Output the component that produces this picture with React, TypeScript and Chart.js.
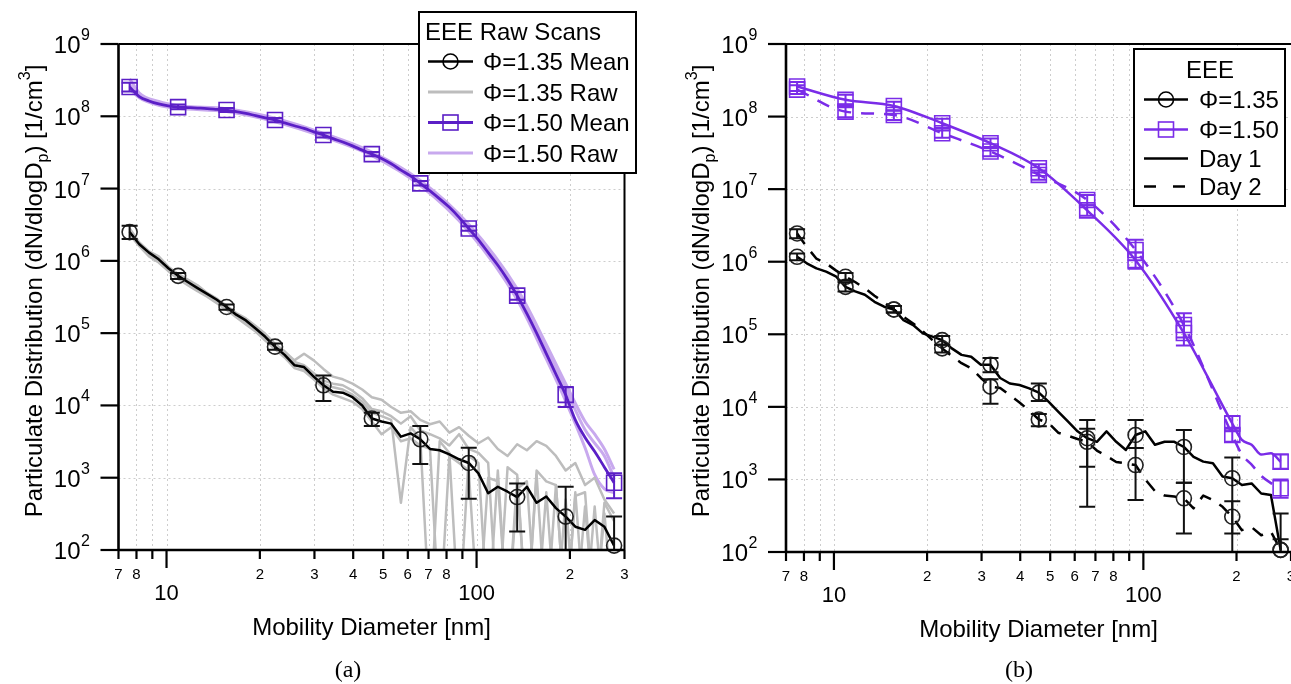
import React, { useEffect, useRef } from 'react';
import { Chart, registerables } from 'chart.js';
Chart.register(...registerables);

// ---------- shared axes / ticks ----------
const X_MIN = 7;
const X_MAX = 300;
const Y_MIN = 1e2;
const Y_MAX = 1e9;
const X_MINOR = [7, 8, 9, 20, 30, 40, 50, 60, 70, 80, 90, 200, 300];
const X_MINOR_LABELS = ['7', '8', '', '2', '3', '4', '5', '6', '7', '8', '', '2', '3'];
const X_MAJOR = [10, 100];
const X_MAJOR_LABELS = ['10', '100'];
const Y_DECADES = [1e2, 1e3, 1e4, 1e5, 1e6, 1e7, 1e8, 1e9];
const Y_EXPONENTS = ['2', '3', '4', '5', '6', '7', '8', '9'];
const X_TITLE = 'Mobility Diameter [nm]';

// mobility diameters of the instrument channels [nm]
const D = [7.603, 8.171, 8.782, 9.435, 10.14, 10.90, 11.71, 12.59, 13.52, 14.53,
  15.62, 16.78, 18.03, 19.38, 20.82, 22.38, 24.04, 25.84, 27.77, 29.84,
  32.06, 34.45, 37.02, 39.79, 42.76, 45.94, 49.37, 53.05, 57.02, 61.27,
  65.84, 70.75, 76.03, 81.71, 87.81, 94.35, 101.4, 109.0, 117.1, 125.9,
  135.2, 145.3, 156.2, 167.8, 180.3, 193.8, 208.2, 223.8, 240.4, 258.4,
  277.7];
const MARK_IDX = [0, 5, 10, 15, 20, 25, 30, 35, 40, 45, 50];
const MARK_D = [7.603, 10.90, 15.62, 22.38, 32.06, 45.94, 65.84, 94.35, 135.2, 193.8, 277.7];

// ---------- (a) EEE raw scans ----------
const A_MEAN_135 = [2.5e6, 1.7e6, 1.3e6, 1.05e6, 7.9e5, 6.2e5, 5.1e5, 4.2e5, 3.5e5, 2.9e5,
  2.3e5, 1.8e5, 1.5e5, 1.16e5, 8.9e4, 6.5e4, 5.0e4, 3.6e4, 3.4e4, 2.5e4,
  1.9e4, 1.55e4, 1.5e4, 1.3e4, 1.0e4, 6.6e3, 6.0e3, 5.6e3, 3.7e3, 4.1e3,
  3.4e3, 2.5e3, 2.4e3, 2.1e3, 1.8e3, 1.6e3, 1.15e3, 610, 750, 640,
  540, 750, 450, 550, 380, 290, 210, 190, 260, 210,
  115];
const A_MEAN_150 = [2.54e8, 1.87e8, 1.63e8, 1.48e8, 1.39e8, 1.34e8, 1.32e8, 1.30e8, 1.28e8, 1.25e8,
  1.22e8, 1.16e8, 1.10e8, 1.02e8, 9.5e7, 8.9e7, 8.1e7, 7.4e7, 6.8e7, 6.1e7,
  5.5e7, 4.9e7, 4.4e7, 3.9e7, 3.4e7, 3.0e7, 2.6e7, 2.2e7, 1.8e7, 1.5e7,
  1.18e7, 9.3e6, 7.2e6, 5.5e6, 4.0e6, 2.8e6, 1.95e6, 1.3e6, 8.7e5, 5.5e5,
  3.3e5, 1.86e5, 1.0e5, 5.2e4, 2.7e4, 1.4e4, 6.3e3, 3.6e3, 2.3e3, 1.4e3,
  850];
const A_RAW135_1 = [2.8e6, 1.8e6, 1.35e6, 1.15e6, 8.3e5, 6.6e5, 5.5e5, 4.6e5, 3.6e5, 3.0e5,
  2.4e5, 1.9e5, 1.6e5, 1.26e5, 9.8e4, 7.1e4, 5.6e4, 4.2e4, 5.2e4, 4.2e4,
  3.2e4, 2.5e4, 2.3e4, 2.0e4, 1.66e4, 1.3e4, 1.2e4, 9.5e3, 7.9e3, 8.3e3,
  6.3e3, 5.5e3, 6.0e3, 4.2e3, 5.0e3, 3.8e3, 3.0e3, 3.6e3, 2.5e3, 2.0e3,
  2.9e3, 2.4e3, 3.2e3, 2.75e3, 2.0e3, 1.26e3, 1.6e3, 790, 1.0e3, 500,
  320];
const A_RAW135_2 = [2.5e6, 1.74e6, 1.2e6, 1.0e6, 7.6e5, 6.0e5, 5.0e5, 4.0e5, 3.3e5, 2.75e5,
  2.2e5, 1.74e5, 1.38e5, 1.1e5, 8.5e4, 6.3e4, 5.0e4, 3.8e4, 3.2e4, 2.5e4,
  2.0e4, 1.78e4, 1.66e4, 1.41e4, 1.12e4, 7.9e3, 7.1e3, 6.3e3, 450, 5.0e3,
  3.5e3, 10, 3.2e3, 2.2e3, 10, 2.0e3, 1.6e3, 10, 1.26e3, 10,
  1.0e3, 10, 1.1e3, 10, 790, 10, 630, 10, 400, 10,
  10];
const A_RAW135_3 = [2.3e6, 1.6e6, 1.15e6, 9.5e5, 7.2e5, 5.6e5, 4.6e5, 3.8e5, 3.2e5, 2.6e5,
  2.1e5, 1.66e5, 1.32e5, 1.05e5, 7.9e4, 6.0e4, 4.6e4, 3.3e4, 3.0e4, 2.3e4,
  1.74e4, 1.41e4, 1.26e4, 1.12e4, 8.9e3, 6.0e3, 4.0e3, 5.0e3, 3.2e3, 3.5e3,
  2.8e3, 2.5e3, 10, 2.0e3, 1.6e3, 1.26e3, 10, 1.0e3, 890, 10,
  710, 890, 10, 630, 10, 500, 10, 400, 10, 320,
  10];
const A_RAW135_4 = [2.6e6, 1.66e6, 1.26e6, 1.07e6, 7.9e5, 6.3e5, 5.2e5, 4.4e5, 3.5e5, 2.95e5,
  2.3e5, 1.86e5, 1.5e5, 1.2e5, 9.1e4, 6.8e4, 5.2e4, 4.0e4, 3.6e4, 2.8e4,
  2.2e4, 2.0e4, 1.9e4, 1.6e4, 1.26e4, 8.9e3, 8.3e3, 7.1e3, 5.6e3, 7.1e3,
  4.5e3, 4.0e3, 3.5e3, 2.8e3, 4.0e3, 2.5e3, 2.2e3, 1.6e3, 10, 1.4e3,
  1.1e3, 10, 1.26e3, 890, 790, 10, 560, 630, 10, 450,
  250];
const A_RAW150_D = [7.603, 8.171, 9.435, 10.90, 15.62, 22.38, 32.06, 45.94, 65.84, 94.35, 135.2, 167.8, 193.8, 223.8, 240.4, 258.4, 277.7];
const A_RAW150_1 = [3.3e8, 2.1e8, 1.6e8, 1.4e8, 1.27e8, 9.4e7, 5.8e7, 3.2e7, 1.3e7, 3.2e6, 4.1e5, 7.0e4, 2.0e4, 6.0e3, 4.0e3, 2.5e3, 1.3e3];
const A_RAW150_2 = [2.4e8, 1.8e8, 1.42e8, 1.29e8, 1.16e8, 8.4e7, 5.2e7, 2.85e7, 1.1e7, 2.55e6, 2.9e5, 4.4e4, 1.15e4, 2.6e3, 1.1e3, 700, 620];
const A_RAW150_3 = [2.7e8, 1.95e8, 1.55e8, 1.38e8, 1.25e8, 9.2e7, 5.7e7, 3.1e7, 1.24e7, 3.0e6, 3.7e5, 6.0e4, 1.7e4, 4.6e3, 3.0e3, 2.0e3, 1.0e3];
const A_ERR135_HI = [3.05e6, 6.8e5, 2.5e5, 7.2e4, 2.6e4, 7.9e3, 5.2e3, 2.6e3, 830, 750, 290];
const A_ERR135_LO = [2.0e6, 5.6e5, 2.1e5, 5.9e4, 1.15e4, 5.2e3, 1.55e3, 510, 180, 10, 10];
const A_ERR150_HI = [2.9e8, 1.45e8, 1.3e8, 9.5e7, 5.9e7, 3.2e7, 1.27e7, 3.0e6, 3.7e5, 1.8e4, 1.15e3];
const A_ERR150_LO = [2.2e8, 1.25e8, 1.15e8, 8.3e7, 5.1e7, 2.8e7, 1.1e7, 2.6e6, 2.9e5, 9.5e3, 520];
const A_LEGEND_TITLE = 'EEE Raw Scans';
const A_LEGEND = ['Φ=1.35 Mean', 'Φ=1.35 Raw', 'Φ=1.50 Mean', 'Φ=1.50 Raw'];

// ---------- (b) EEE day 1 / day 2 ----------
const B_D1_135 = [1.17e6, 9.5e5, 8.1e5, 7.3e5, 6.3e5, 4.5e5, 3.9e5, 3.5e5, 2.8e5, 2.4e5,
  2.2e5, 1.57e5, 1.34e5, 1.03e5, 9.3e4, 8.3e4, 6.4e4, 5.2e4, 4.9e4, 3.8e4,
  3.8e4, 2.5e4, 2.1e4, 2.0e4, 1.8e4, 1.57e4, 1.18e4, 8.6e3, 6.3e3, 4.6e3,
  3.7e3, 3.3e3, 4.6e3, 3.3e3, 2.55e3, 4.1e3, 4.6e3, 3.0e3, 3.3e3, 3.3e3,
  2.8e3, 2.05e3, 1.76e3, 1.67e3, 1.1e3, 1.04e3, 840, 880, 640, 610,
  107];
const B_D2_135 = [2.45e6, 1.6e6, 1.1e6, 9.5e5, 7.6e5, 6.2e5, 5.25e5, 4.3e5, 3.4e5, 2.75e5,
  2.2e5, 1.74e5, 1.41e5, 1.1e5, 8.3e4, 6.4e4, 5.0e4, 4.0e4, 3.4e4, 2.5e4,
  1.9e4, 1.82e4, 1.45e4, 1.15e4, 8.9e3, 6.7e3, 6.0e3, 4.4e3, 4.0e3, 3.6e3,
  3.3e3, 2.5e3, 2.1e3, 1.74e3, 1.66e3, 1.58e3, 1.0e3, 690, 600, 580,
  550, 400, 600, 520, 420, 306, 200, 220, 170, 190,
  107];
const B_P_D = [7.603, 10.90, 15.62, 22.38, 32.06, 45.94, 65.84, 94.35, 135.2, 193.8, 208.2, 223.8, 240.4, 258.4, 277.7];
const B_P_MARK_IDX = [0, 1, 2, 3, 4, 5, 6, 7, 8, 9, 14];
const B_D1_150 = [2.6e8, 1.7e8, 1.4e8, 8.1e7, 4.3e7, 1.94e7, 5.1e6, 1.05e6, 1.04e5, 5.9e3, 3.5e3, 3.0e3, 2.2e3, 2.3e3, 1.75e3];
const B_D2_150 = [2.35e8, 1.17e8, 1.05e8, 5.9e7, 3.3e7, 1.57e7, 7.1e6, 1.45e6, 1.34e5, 4.1e3, 2.2e3, 1.6e3, 1.12e3, 890, 755];
const B_ERR_D1_135_HI = [1.3e6, 5.2e5, 2.45e5, 9.5e4, 4.7e4, 2.1e4, 6.6e3, 6.6e3, 4.8e3, 2.0e3, 340];
const B_ERR_D1_135_LO = [1.05e6, 3.9e5, 2.0e5, 7.2e4, 3.0e4, 1.2e4, 1.5e3, 2.7e3, 900, 10, 10];
const B_ERR_D2_135_HI = [2.8e6, 7.0e5, 2.45e5, 7.2e4, 2.4e4, 8.0e3, 5.0e3, 2.7e3, 900, 500, 150];
const B_ERR_D2_135_LO = [2.1e6, 5.5e5, 2.0e5, 5.6e4, 1.1e4, 5.4e3, 420, 520, 180, 180, 80];
const B_ERR_D1_150_HI = [3.0e8, 2.0e8, 1.6e8, 9.3e7, 5.0e7, 2.2e7, 6.0e6, 1.35e6, 1.5e5, 7.5e3, 2.2e3];
const B_ERR_D1_150_LO = [2.25e8, 1.45e8, 1.22e8, 7.0e7, 3.7e7, 1.7e7, 4.3e6, 8.0e5, 7.0e4, 4.6e3, 1.4e3];
const B_ERR_D2_150_HI = [2.7e8, 1.4e8, 1.2e8, 6.8e7, 3.8e7, 1.8e7, 8.3e6, 2.0e6, 1.95e5, 5.0e3, 1.0e3];
const B_ERR_D2_150_LO = [2.05e8, 9.8e7, 9.0e7, 5.1e7, 2.85e7, 1.35e7, 6.0e6, 1.05e6, 9.0e4, 3.3e3, 560];
const B_LEGEND_TITLE = 'EEE';
const B_LEGEND = ['Φ=1.35', 'Φ=1.50', 'Day 1', 'Day 2'];

// ---------- styling ----------
const SANS = '"Liberation Sans", Arial, Helvetica, sans-serif';
const SERIF = '"Liberation Serif", "Times New Roman", serif';
const BLACK = '#000000';
const GRAY = '#bdbdbd';
const PURPLE_A = '#5b1fc6';
const LILAC = '#c8a9ee';
const PURPLE_B = '#7a2ce8';
const DASH = [13, 10];

const pts = (xs: number[], ys: number[]) => xs.map((x, i) => ({ x, y: ys[i] }));
const pick = (arr: number[], idx: number[]) => idx.map((i) => arr[i]);

function lineDs(data: any[], color: string, width: number, dash: number[] = [], smooth = false) {
  return {
    data, borderColor: color, borderWidth: width, borderDash: dash, pointRadius: 0,
    fill: false, tension: 0, cubicInterpolationMode: smooth ? 'monotone' : 'default',
    borderJoinStyle: 'round', borderCapStyle: 'butt',
  };
}
function markerDs(data: any[], style: string, color: string, radius: number) {
  return {
    data, showLine: false, pointStyle: style, pointRadius: radius, pointBorderColor: color,
    pointBackgroundColor: 'rgba(0,0,0,0)', pointBorderWidth: 1.6, clip: false,
  };
}

function seg(ctx: CanvasRenderingContext2D, x1: number, y1: number, x2: number, y2: number) {
  ctx.beginPath(); ctx.moveTo(x1, y1); ctx.lineTo(x2, y2); ctx.stroke();
}

function drawGrid(chart: any) {
  const { ctx, chartArea: a, scales } = chart;
  ctx.save();
  ctx.strokeStyle = '#cdcdcd';
  ctx.lineWidth = 1;
  ctx.setLineDash([2, 3]);
  [...X_MINOR, ...X_MAJOR].forEach((v) => {
    if (v <= X_MIN || v >= X_MAX) return;
    const px = Math.round(scales.x.getPixelForValue(v)) + 0.5;
    seg(ctx, px, a.top, px, a.bottom);
  });
  Y_DECADES.forEach((v) => {
    if (v <= Y_MIN || v >= Y_MAX) return;
    const py = Math.round(scales.y.getPixelForValue(v)) + 0.5;
    seg(ctx, a.left, py, a.right, py);
  });
  ctx.restore();
}

function drawErrors(chart: any, xs: number[], hi: number[], lo: number[], color: string) {
  const { ctx, chartArea: a, scales } = chart;
  ctx.save();
  ctx.strokeStyle = color; ctx.lineWidth = 2; ctx.setLineDash([]);
  xs.forEach((xv, k) => {
    const px = scales.x.getPixelForValue(xv);
    const top = scales.y.getPixelForValue(hi[k]);
    let bot = scales.y.getPixelForValue(lo[k]);
    const cap = bot <= a.bottom;
    bot = Math.min(bot, a.bottom);
    ctx.beginPath();
    ctx.moveTo(px, top); ctx.lineTo(px, bot);
    ctx.moveTo(px - 8, top); ctx.lineTo(px + 8, top);
    if (cap) { ctx.moveTo(px - 8, bot); ctx.lineTo(px + 8, bot); }
    ctx.stroke();
  });
  ctx.restore();
}

function drawRich(ctx: CanvasRenderingContext2D, parts: { t: string; s: number; dy: number }[], cx: number, base: number) {
  let total = 0;
  parts.forEach((p) => { ctx.font = `${p.s}px ${SANS}`; total += ctx.measureText(p.t).width; });
  let x = cx - total / 2;
  ctx.textAlign = 'left';
  parts.forEach((p) => {
    ctx.font = `${p.s}px ${SANS}`;
    ctx.fillText(p.t, x, base + p.dy);
    x += ctx.measureText(p.t).width;
  });
}

function drawAxes(chart: any, rightBorder: boolean, titleX: number, caption: string, capX: number) {
  const { ctx, chartArea: a, scales } = chart;
  ctx.save();
  ctx.setLineDash([]);
  ctx.strokeStyle = BLACK;
  ctx.fillStyle = BLACK;
  ctx.lineWidth = 2;
  seg(ctx, a.left, a.top, a.right, a.top);
  if (rightBorder) seg(ctx, a.right, a.top, a.right, a.bottom);
  ctx.lineWidth = 2.6;
  seg(ctx, a.left, a.top, a.left, a.bottom);
  seg(ctx, a.left, a.bottom, a.right, a.bottom);
  // y ticks
  ctx.lineWidth = 2.2;
  Y_DECADES.forEach((v, k) => {
    const py = scales.y.getPixelForValue(v);
    seg(ctx, a.left - 18, py, a.left, py);
    ctx.font = `24px ${SANS}`; ctx.textAlign = 'right'; ctx.textBaseline = 'alphabetic';
    ctx.fillText('10', a.left - 38, py + 9);
    ctx.font = `16px ${SANS}`; ctx.textAlign = 'left';
    ctx.fillText(Y_EXPONENTS[k], a.left - 37.5, py - 4);
  });
  // x ticks
  X_MINOR.forEach((v, k) => {
    const px = scales.x.getPixelForValue(v);
    seg(ctx, px, a.bottom, px, a.bottom + 9);
    ctx.font = `15px ${SANS}`; ctx.textAlign = 'center';
    if (X_MINOR_LABELS[k]) ctx.fillText(X_MINOR_LABELS[k], px, a.bottom + 28.5);
  });
  X_MAJOR.forEach((v, k) => {
    const px = scales.x.getPixelForValue(v);
    seg(ctx, px, a.bottom, px, a.bottom + 18);
    ctx.font = `22px ${SANS}`; ctx.textAlign = 'center';
    ctx.fillText(X_MAJOR_LABELS[k], px, a.bottom + 50);
  });
  // x title
  ctx.font = `24px ${SANS}`; ctx.textAlign = 'center';
  ctx.fillText(X_TITLE, (a.left + a.right) / 2, a.bottom + 85);
  // y title (rotated)
  ctx.save();
  ctx.translate(titleX, 291);
  ctx.rotate(-Math.PI / 2);
  drawRich(ctx, [
    { t: 'Particulate Distribution (dN/dlogD', s: 24, dy: 0 },
    { t: 'p', s: 16, dy: 6 },
    { t: ') [1/cm', s: 24, dy: 0 },
    { t: '3', s: 16, dy: -12 },
    { t: ']', s: 24, dy: 0 },
  ], 0, 8.5);
  ctx.restore();
  // caption
  ctx.font = `24px ${SERIF}`; ctx.textAlign = 'center';
  ctx.fillText(caption, capX, 677);
  ctx.restore();
}

function legendSample(ctx: CanvasRenderingContext2D, x1: number, x2: number, y: number, color: string, width: number, dash: number[], marker: string | null) {
  ctx.save();
  ctx.strokeStyle = color; ctx.lineWidth = width; ctx.setLineDash(dash);
  seg(ctx, x1, y, x2, y);
  ctx.setLineDash([]);
  ctx.lineWidth = 1.6;
  const cx = (x1 + x2) / 2;
  if (marker === 'circle') { ctx.beginPath(); ctx.arc(cx, y, 7.5, 0, Math.PI * 2); ctx.stroke(); }
  if (marker === 'rect') { ctx.strokeRect(cx - 7.5, y - 7.5, 15, 15); }
  ctx.restore();
}

function legendA(chart: any) {
  const ctx = chart.ctx as CanvasRenderingContext2D;
  ctx.save();
  ctx.setLineDash([]);
  ctx.fillStyle = '#fff'; ctx.fillRect(419, 12, 217, 161);
  ctx.lineWidth = 2; ctx.strokeStyle = BLACK; ctx.strokeRect(419, 12, 217, 161);
  ctx.fillStyle = BLACK; ctx.font = `24px ${SANS}`; ctx.textAlign = 'left'; ctx.textBaseline = 'alphabetic';
  ctx.fillText(A_LEGEND_TITLE, 425, 40);
  const base = [70, 100.5, 131, 161.5];
  const style = [
    { c: BLACK, w: 2.5, m: 'circle' }, { c: GRAY, w: 3, m: null },
    { c: PURPLE_A, w: 2.8, m: 'rect' }, { c: LILAC, w: 3, m: null },
  ];
  A_LEGEND.forEach((t, k) => {
    legendSample(ctx, 428, 473, base[k] - 8.5, style[k].c, style[k].w, [], style[k].m);
    ctx.fillStyle = BLACK; ctx.font = `24px ${SANS}`; ctx.textAlign = 'left';
    ctx.fillText(t, 483, base[k]);
  });
  ctx.restore();
}

function legendB(chart: any) {
  const ctx = chart.ctx as CanvasRenderingContext2D;
  ctx.save();
  ctx.setLineDash([]);
  ctx.fillStyle = '#fff'; ctx.fillRect(489, 49, 151, 157);
  ctx.lineWidth = 2; ctx.strokeStyle = BLACK; ctx.strokeRect(489, 49, 151, 157);
  ctx.fillStyle = BLACK; ctx.font = `24px ${SANS}`; ctx.textAlign = 'center'; ctx.textBaseline = 'alphabetic';
  ctx.fillText(B_LEGEND_TITLE, 565, 78);
  const base = [108, 138, 167, 195];
  const style = [
    { c: BLACK, d: [] as number[], m: 'circle' }, { c: PURPLE_B, d: [] as number[], m: 'rect' },
    { c: BLACK, d: [] as number[], m: null }, { c: BLACK, d: [12, 17], m: null },
  ];
  B_LEGEND.forEach((t, k) => {
    legendSample(ctx, 499, 543, base[k] - 8.5, style[k].c, 2.5, style[k].d, style[k].m);
    ctx.fillStyle = BLACK; ctx.font = `24px ${SANS}`; ctx.textAlign = 'left';
    ctx.fillText(t, 554, base[k]);
  });
  ctx.restore();
}

function baseOptions(padding: any) {
  return {
    responsive: false,
    animation: false,
    devicePixelRatio: 1,
    events: [],
    layout: { padding, autoPadding: false },
    plugins: { legend: { display: false }, tooltip: { enabled: false }, title: { display: false } },
    scales: {
      x: { type: 'logarithmic', min: X_MIN, max: X_MAX, display: false },
      y: { type: 'logarithmic', min: Y_MIN, max: Y_MAX, display: false },
    },
  };
}

function configA(): any {
  const datasets = [
    markerDs(pts(MARK_D, pick(A_MEAN_135, MARK_IDX)), 'circle', '#222', 7.5),
    markerDs(pts(MARK_D, pick(A_MEAN_150, MARK_IDX)), 'rect', PURPLE_A, 10.6),
    lineDs(pts(D, A_MEAN_135), BLACK, 2.5),
    lineDs(pts(D, A_MEAN_150), PURPLE_A, 2.8, [], true),
    lineDs(pts(D, A_RAW135_1), GRAY, 2.5),
    lineDs(pts(D, A_RAW135_2), GRAY, 2.5),
    lineDs(pts(D, A_RAW135_3), GRAY, 2.5),
    lineDs(pts(D, A_RAW135_4), GRAY, 2.5),
    lineDs(pts(A_RAW150_D, A_RAW150_1), LILAC, 3, [], true),
    lineDs(pts(A_RAW150_D, A_RAW150_2), LILAC, 3, [], true),
    lineDs(pts(A_RAW150_D, A_RAW150_3), LILAC, 3, [], true),
  ];
  return {
    type: 'line',
    data: { datasets },
    options: baseOptions({ left: 118.5, right: 20.5, top: 44, bottom: 134 }),
    plugins: [{
      id: 'decorA',
      beforeDatasetsDraw: (c: any) => drawGrid(c),
      afterDatasetsDraw: (c: any) => {
        drawErrors(c, MARK_D, A_ERR135_HI, A_ERR135_LO, '#111');
        drawErrors(c, MARK_D, A_ERR150_HI, A_ERR150_LO, PURPLE_A);
      },
      afterDraw: (c: any) => {
        drawAxes(c, true, 33, '(a)', 348);
        legendA(c);
      },
    }],
  };
}

function configB(): any {
  const datasets = [
    markerDs(pts(MARK_D, pick(B_D1_135, MARK_IDX)), 'circle', '#222', 7.5),
    markerDs(pts(MARK_D, pick(B_D2_135, MARK_IDX)), 'circle', '#222', 7.5),
    markerDs(pts(MARK_D, pick(B_D1_150, B_P_MARK_IDX)), 'rect', PURPLE_B, 10.6),
    markerDs(pts(MARK_D, pick(B_D2_150, B_P_MARK_IDX)), 'rect', PURPLE_B, 10.6),
    lineDs(pts(D, B_D1_135), BLACK, 2.5),
    lineDs(pts(D, B_D2_135), BLACK, 2.5, DASH),
    lineDs(pts(B_P_D, B_D1_150), PURPLE_B, 2.5, [], true),
    lineDs(pts(B_P_D, B_D2_150), PURPLE_B, 2.5, DASH, true),
  ];
  return {
    type: 'line',
    data: { datasets },
    options: baseOptions({ left: 141, right: 0, top: 44, bottom: 132 }),
    plugins: [{
      id: 'decorB',
      beforeDatasetsDraw: (c: any) => drawGrid(c),
      afterDatasetsDraw: (c: any) => {
        drawErrors(c, MARK_D, B_ERR_D1_135_HI, B_ERR_D1_135_LO, '#111');
        drawErrors(c, MARK_D, B_ERR_D2_135_HI, B_ERR_D2_135_LO, '#111');
        drawErrors(c, MARK_D, B_ERR_D1_150_HI, B_ERR_D1_150_LO, PURPLE_B);
        drawErrors(c, MARK_D, B_ERR_D2_150_HI, B_ERR_D2_150_LO, PURPLE_B);
      },
      afterDraw: (c: any) => {
        drawAxes(c, false, 55.5, '(b)', 374);
        legendB(c);
      },
    }],
  };
}

export default function App() {
  const leftRef = useRef<HTMLCanvasElement>(null);
  const rightRef = useRef<HTMLCanvasElement>(null);
  useEffect(() => {
    const c1 = new Chart(leftRef.current as HTMLCanvasElement, configA());
    const c2 = new Chart(rightRef.current as HTMLCanvasElement, configB());
    return () => { c1.destroy(); c2.destroy(); };
  }, []);
  return (
    <div style={{ position: 'absolute', left: 0, top: 0, width: 1291, height: 684, background: '#fff', overflow: 'hidden' }}>
      <canvas ref={leftRef} width={645} height={684} style={{ position: 'absolute', left: 0, top: 0, width: 645, height: 684 }} />
      <canvas ref={rightRef} width={646} height={684} style={{ position: 'absolute', left: 645, top: 0, width: 646, height: 684 }} />
    </div>
  );
}
